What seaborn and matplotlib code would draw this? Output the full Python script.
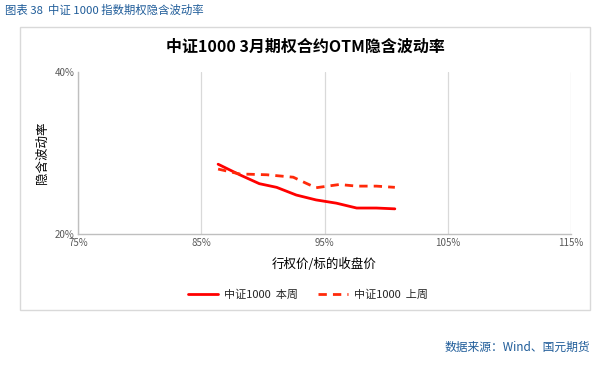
import matplotlib
matplotlib.use("Agg")
import matplotlib.pyplot as plt
import seaborn as sns
import pandas as pd
from matplotlib.patches import Rectangle
from matplotlib.ticker import FuncFormatter

# Data
strike_this = [86.35, 88.1, 89.7, 91.1, 92.7, 94.3, 95.95, 97.6, 99.2, 100.7]
vol_this = [28.6, 27.3, 26.2, 25.75, 24.8, 24.2, 23.8, 23.2, 23.2, 23.1]
strike_last = [86.35, 88.1, 90.3, 92.45, 93.5, 94.3, 96.2, 97.6, 99.2, 100.7]
vol_last = [28.0, 27.4, 27.3, 27.0, 26.25, 25.7, 26.1, 25.9, 25.9, 25.75]
series_names = ["中证1000  本周", "中证1000  上周"]
x_ticks = [75, 85, 95, 105, 115]
y_ticks = [20, 40]

sns.set_theme(style="white")
plt.rcParams['font.family'] = ['Noto Sans CJK SC', 'DejaVu Sans']
plt.rcParams['axes.unicode_minus'] = False

df = pd.concat([
    pd.DataFrame({"strike": strike_this, "vol": vol_this, "series": series_names[0]}),
    pd.DataFrame({"strike": strike_last, "vol": vol_last, "series": series_names[1]}),
], ignore_index=True)

fig = plt.figure(figsize=(6.1, 3.65), dpi=100)
fig.patch.set_facecolor("white")

# outer frame
fig.patches.append(Rectangle((20/610, 1-310/365), 570/610, 283/365, transform=fig.transFigure,
                             fill=False, edgecolor="#D9D9D9", linewidth=1.0))

ax = fig.add_axes([78.3/610, 1-234/365, 492.7/610, 162.3/365])
sns.lineplot(data=df, x="strike", y="vol", hue="series", style="series",
             palette={series_names[0]: "#FF0000", series_names[1]: "#FF2A0A"},
             dashes={series_names[0]: "", series_names[1]: (3, 2.2)},
             linewidth=2, ax=ax, legend=True)

ax.set_xlim(75, 115)
ax.set_ylim(20, 40)
ax.set_xticks(x_ticks)
ax.set_yticks(y_ticks)
ax.xaxis.set_major_formatter(FuncFormatter(lambda v, p: f"{v:.0f}%"))
ax.yaxis.set_major_formatter(FuncFormatter(lambda v, p: f"{v:.0f}%"))
ax.tick_params(axis='both', length=0, labelsize=7, colors="#595959", pad=3)
ax.grid(axis='x', color="#D9D9D9", linewidth=0.9)
ax.grid(axis='y', visible=False)
for s in ["top", "right"]:
    ax.spines[s].set_visible(False)
for s in ["left", "bottom"]:
    ax.spines[s].set_color("#BFBFBF")
    ax.spines[s].set_linewidth(1.0)

ax.set_xlabel("行权价/标的收盘价", fontsize=9, color="#000000", labelpad=7)
ax.set_ylabel("隐含波动率", fontsize=9, color="#000000", labelpad=4)

handles, labels = ax.get_legend_handles_labels()
ax.legend(handles=handles, labels=labels, loc="center", bbox_to_anchor=(0.505, 1-295/365),
          bbox_transform=fig.transFigure, ncol=2, frameon=False, fontsize=8,
          handlelength=2.7, columnspacing=1.8, handletextpad=0.5)

fig.text(0.5, 1-47/365, "中证1000 3月期权合约OTM隐含波动率", ha="center", va="center",
         fontsize=11.5, fontweight="bold", color="#000000")
fig.text(5/610, 1-10/365, "图表 38  中证 1000 指数期权隐含波动率", ha="left", va="center",
         fontsize=8.2, color="#1F5C99")
fig.text(590/610, 1-347/365, "数据来源：Wind、国元期货", ha="right", va="center",
         fontsize=8.5, color="#1F5C99")

fig.savefig("out.png", dpi=100, facecolor="white")
